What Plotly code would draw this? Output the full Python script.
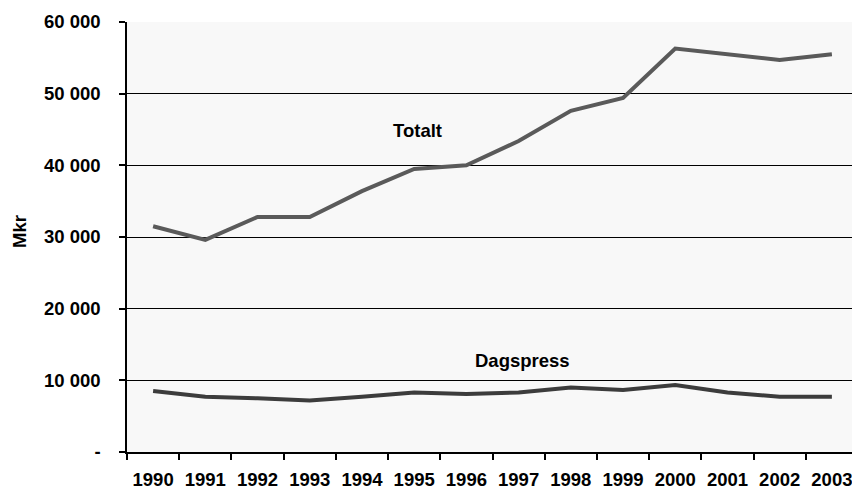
import plotly.graph_objects as go

years = ["1990", "1991", "1992", "1993", "1994", "1995", "1996", "1997",
         "1998", "1999", "2000", "2001", "2002", "2003"]
totalt = [31500, 29600, 32800, 32800, 36400, 39500, 40000, 43400,
          47600, 49400, 56300, 55500, 54700, 55500]
dagspress = [8500, 7700, 7500, 7200, 7700, 8300, 8100, 8300,
             9000, 8650, 9350, 8300, 7700, 7700]
ytick_vals = [0, 10000, 20000, 30000, 40000, 50000, 60000]
ytick_text = ["-", "10 000", "20 000", "30 000", "40 000", "50 000", "60 000"]

# page has an 8px body margin, so the figure is sized to fit inside it
W, H = 852, 481
L, R, T, B = 119, 2, 14, 37
pw = W - L - R
ph = H - T - B

fig = go.Figure()
fig.add_trace(go.Scatter(x=years, y=totalt, mode="lines", name="Totalt",
                         line=dict(color="#5a5a5a", width=4)))
fig.add_trace(go.Scatter(x=years, y=dagspress, mode="lines", name="Dagspress",
                         line=dict(color="#3c3c3c", width=4)))

font_fam = "Liberation Sans, Arial, sans-serif"
fs = 18.5

fig.update_layout(
    width=W, height=H,
    margin=dict(l=L, r=R, t=T, b=B),
    paper_bgcolor="white",
    plot_bgcolor="#f8f8f8",
    showlegend=False,
    font=dict(family=font_fam, color="black"),
)
fig.update_xaxes(
    type="category", range=[-0.5, 13.5],
    showgrid=False, showline=True, linecolor="black", linewidth=1.5,
    ticks="outside", tickson="boundaries", ticklen=6, tickcolor="black", tickwidth=1.5,
    tickfont=dict(family=font_fam, size=fs, weight="bold", color="black"),
    ticklabelstandoff=10,
    automargin=False,
)
fig.update_yaxes(
    range=[0, 60000], tickvals=ytick_vals, ticktext=ytick_text,
    showgrid=True, gridcolor="black", gridwidth=1,
    showline=True, linecolor="black", linewidth=1.5,
    ticks="outside", ticklen=6, tickcolor="black", tickwidth=1.5,
    tickfont=dict(family=font_fam, size=fs, weight="bold", color="black"),
    ticklabelstandoff=15,
    zeroline=False,
    automargin=False,
)
fig.add_annotation(text="Mkr", xref="paper", yref="paper",
                   x=(11 - L) / pw, y=(H - B - 224) / ph,
                   xanchor="center", yanchor="middle",
                   textangle=-90, showarrow=False,
                   font=dict(family=font_fam, size=fs, weight="bold", color="black"))
fig.add_annotation(text="Totalt", xref="x", yref="y", x=5.06, y=44800,
                   showarrow=False,
                   font=dict(family=font_fam, size=fs, weight="bold", color="black"))
fig.add_annotation(text="Dagspress", xref="x", yref="y", x=7.07, y=12800,
                   showarrow=False,
                   font=dict(family=font_fam, size=fs, weight="bold", color="black"))

fig.write_html("out.html")
